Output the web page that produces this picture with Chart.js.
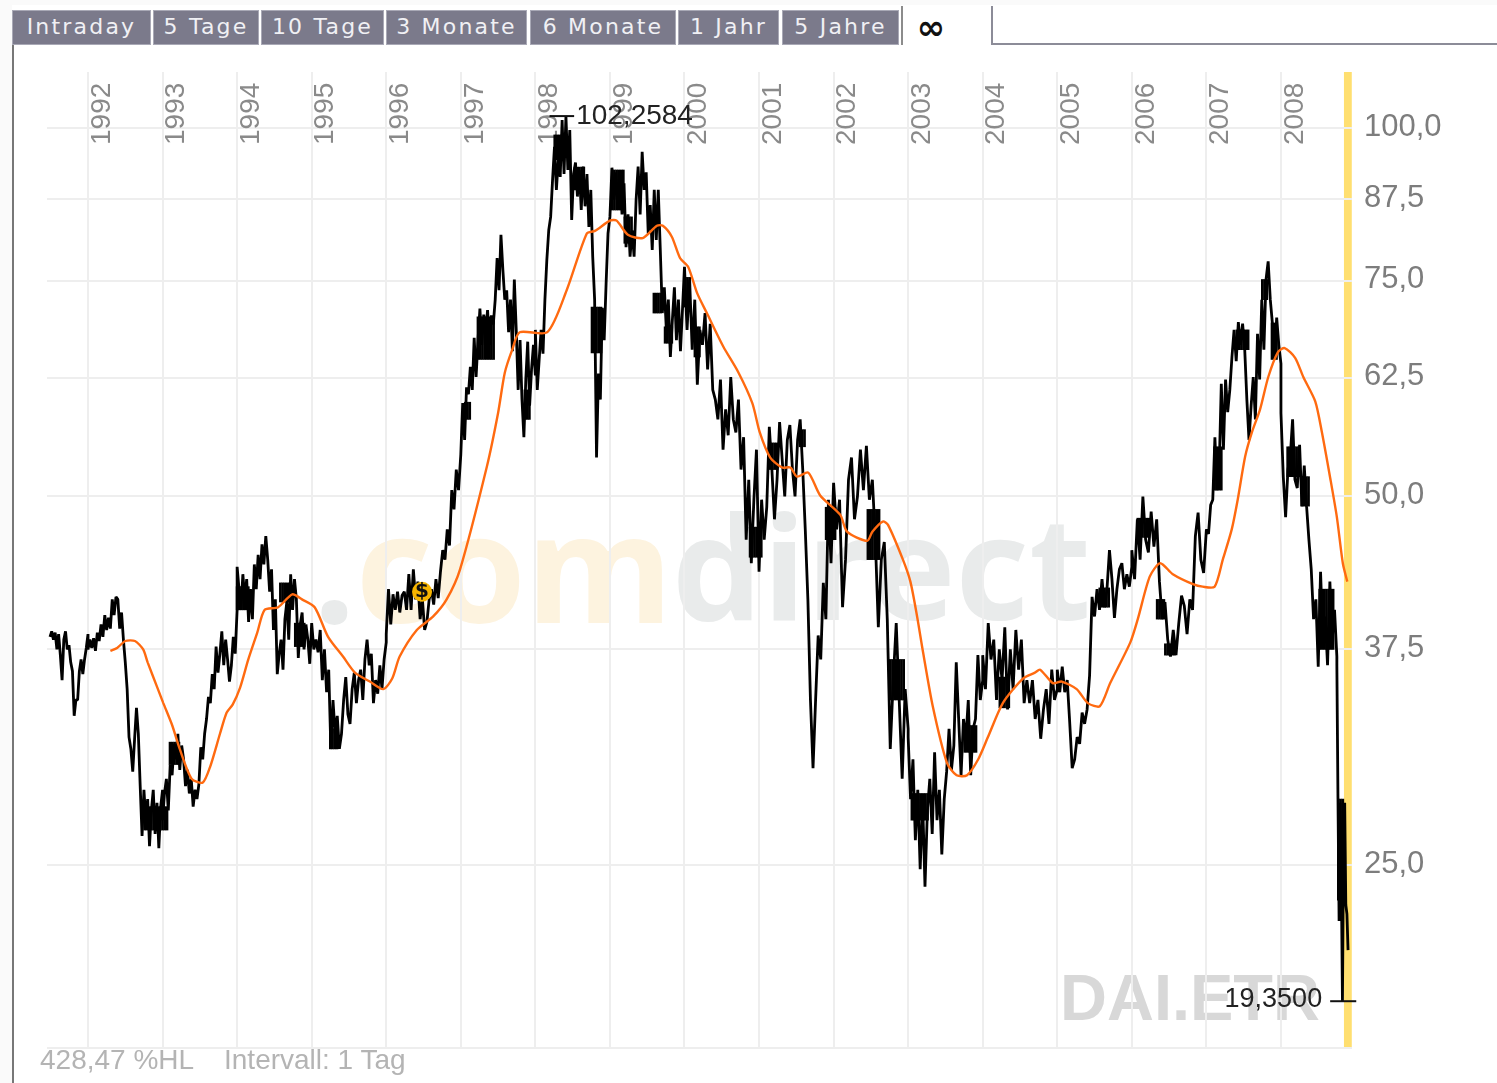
<!DOCTYPE html>
<html><head><meta charset="utf-8"><title>DAI.ETR</title>
<script src="https://cdn.jsdelivr.net/npm/chart.js@4"></script>
<style>
html,body{margin:0;padding:0;background:#fff;overflow:hidden}
#wrap{position:relative;width:1497px;height:1083px;overflow:hidden}
#wrap>*{position:absolute}
canvas{left:0;top:0;z-index:2}
.tab{top:10px;height:35px;background:#7b7a8b;color:#f0f0f4;font:22px/32px "DejaVu Sans";letter-spacing:2.2px;text-align:center;white-space:nowrap;box-sizing:border-box;border:1px solid #a9a9b6;overflow:hidden}
.wm{font-family:"Open Sans";font-weight:700;white-space:nowrap;z-index:1}
.foot{top:1044px;font:28px/32px "Liberation Sans";color:#b4b4b4;white-space:nowrap;z-index:3}
</style></head><body><div id="wrap">
<div style="left:0;top:0;width:1497px;height:5px;background:#fafafa"></div>
<div style="left:0;top:0;width:12px;height:1083px;background:#fafafa"></div>
<div style="left:12px;top:45px;width:2px;height:1038px;background:#777"></div>
<div class="tab" style="left:12px;width:139px">Intraday</div>
<div class="tab" style="left:153px;width:106px">5 Tage</div>
<div class="tab" style="left:261px;width:123px">10 Tage</div>
<div class="tab" style="left:386px;width:141px">3 Monate</div>
<div class="tab" style="left:530px;width:146px">6 Monate</div>
<div class="tab" style="left:678px;width:101px">1 Jahr</div>
<div class="tab" style="left:782px;width:117px">5 Jahre</div>
<div style="left:901px;top:6px;width:2px;height:39px;background:#8c8c8c"></div>
<div style="left:913px;top:8px;width:36px;height:38px;font:bold 34px/38px 'DejaVu Sans';color:#111;text-align:center">∞</div>
<div style="left:991px;top:6px;width:2px;height:39px;background:#8c8c98"></div>
<div style="left:991px;top:43px;width:506px;height:2px;background:#8c8c98"></div>
<div class="wm" style="left:313px;top:440px;font-size:150px;line-height:250px;color:#fdf3df"><span style="color:#e9ebeb">.</span>com</div>
<div class="wm" style="left:672px;top:440px;font-size:143px;line-height:250px;color:#e9ebeb">direct</div>
<div style="left:1060px;top:960px;font:bold 65px/76px 'Liberation Sans';color:#d8d8d8;white-space:nowrap;z-index:1">DAI.ETR</div>
<div class="foot" style="left:40px">428,47 %HL</div>
<div class="foot" style="left:224px">Intervall: 1 Tag</div>
<canvas id="c" width="1497" height="1083"></canvas>
</div>
<script>
const yearTicks=[1992,1993,1994,1995,1996,1997,1998,1999,2000,2001,2002,2003,2004,2005,2006,2007,2008];
const priceTicks=[100,87.5,75,62.5,50,37.5,25];
const axisMin=17.72, axisMax=111.1;

const price1991=[38.4,38.8,38.2,38.7,37.5,38.6,37.1,35.4,38.2,38.8,37.5,37.8,36.6,36.0,33.1,34.1,34.1,36.0,36.8,35.8,36.8,37.6,38.6];
const price1992=[37.5,38.2,37.6,38.3,37.4,38.7,38.1,39.3,38.4,40.0,38.9,39.8,39.0,41.2,40.0,41.4,41.2,39.0,40.2,38.2,36.6,34.8,31.8,31.1,29.8,31.7,33.6,32.0,29.0,26.4,28.8,27.2,28.3,25.9,27.7,28.8,26.5,28.1,25.8,27.9,28.8];
const price1993=[27.2,28.6,29.4,27.7,30.2,29.6,31.4,30.5,32.0,29.9,31.3,30.5,29.0,29.9,28.6,29.4,27.9,28.8,28.3,29.1,31.2,30.5,32.0,32.9,34.3,33.9,35.8,34.8,37.7,35.9,37.2,38.8,36.4,38.2,36.8,35.3,36.4,38.4,37.2,40.4];
const price1994=[43.8,42.0,40.4,43.2,41.2,42.8,39.5,42.0,39.7,44.0,42.0,44.8,42.8,45.7,44.0,46.4,44.4,41.8,43.6,38.9,41.2,35.8,37.2,38.2,36.1,39.7,41.0,38.2,43.2,40.4,42.8,41.2,36.9,39.3,40.2,37.5,39.3,38.2,36.5,39.4];
const price1995=[39.4,37.5,38.2,37.3,38.9,35.4,37.5,34.6,36.1,31.1,34.1,32.0,33.1,31.1,32.0,34.1,35.6,33.2,32.6,34.8,35.9,33.9,35.4,36.1,34.1,36.8,38.2,36.4,37.2,33.9,35.4,34.5,36.4,34.8,36.8,38.0];
const price1996=[38.6,42.0,39.3,41.6,40.4,41.8,40.2,41.5,41.8,40.4,43.2,40.4,43.6,41.2,42.6,39.7,41.2,38.9,39.5,41.2,42.0,40.8,42.8,41.3,43.4,45.2,44.4,47.0,45.6,50.6,48.8,52.6,50.6,54.1];
const price1997=[54.1,59.6,55.6,61.4,60.6,63.8,61.1,67.4,62.6,67.1,71.2,66.5,70.4,68.1,71.0,66.5,70.3,69.1,72.4,78.3,73.7,81.8,76.6,72.4,73.7,68.1,72.4,65.7,75.2,68.4,61.1,67.1,60.0,55.9,62.3,66.9,59.3,63.5,66.5,62.8];
const price1998=[68.4,61.1,64.7,68.4,65.4,72.4,78.0,82.5,84.6,90.7,96.5,89.0,94.2,91.2,101.5,91.7,102.2,92.4,99.6,84.1,91.7,93.7,87.9,92.4,85.7,93.0,86.3,91.7,83.0,89.0,78.5,72.4,53.8,63.0,60.0,71.3,67.1,74.6,82.0,84.6];
const price1999=[84.6,92.8,87.4,92.0,85.7,91.0,85.0,90.1,79.9,85.0,78.5,82.5,78.5,87.4,93.0,85.0,95.6,89.0,92.0,82.0,86.5,79.5,89.0,81.0,89.0,79.5,70.6,74.1,68.4,72.4,65.0,69.7,74.1,67.1,72.4,65.7,71.0,77.0];
const price2000=[77.0,68.4,75.2,65.9,72.4,61.7,68.4,66.5,70.6,63.5,69.2,61.1,60.0,57.8,62.3,54.6,58.9,56.1,62.6,57.8,56.4,60.0,52.6,55.9,46.1,51.6,44.1,49.7,54.6,43.4];
const price2001=[43.4,49.7,46.1,49.0,57.0,52.6,47.9,51.6,57.5,53.6,50.0,55.6,57.2,52.6,50.0,55.6,57.8,52.6,46.9,41.2,34.1,30.0,34.1,38.5,36.8,42.5,39.7,49.7,44.1,51.3];
const price2002=[51.3,47.0,49.7,40.6,44.4,51.6,53.8,47.9,50.0,54.6,50.6,55.0,49.7,51.6,46.1,39.1,44.4,45.9,39.7,31.1,35.4,39.4,34.1,29.4,34.8,32.3];
const price2003=[31.8,28.3,30.5,26.2,28.8,24.8,28.3,24.0,27.7,29.4,26.5,30.9,27.2,28.8,25.5,28.3,29.8,32.3,29.9,31.3,36.6,32.9,29.6,32.9,31.7,34.1,29.6,32.3,32.9,37.1,34.1,35.4];
const price2004=[37.1,34.8,39.4,36.8,38.2,34.1,37.5,35.4,39.1,33.5,37.5,34.8,38.9,36.1,38.2,33.9,35.4,33.9,35.4,32.9,34.1,31.7,33.5,34.8,32.6,36.1,34.1,34.8];
const price2005=[36.1,34.6,36.3,34.6,35.4,32.7,30.0,30.5,31.8,31.4,33.3,32.6,33.5,35.7,41.4,39.9,42.0,40.4,42.8,40.6,42.0,45.2,42.8,39.8,42.0,43.6,44.1,42.0,43.2,42.2,43.8];
const price2006=[45.2,42.8,47.9,44.4,50.0,46.1,45.0,48.6,45.5,47.9,42.6,39.7,41.0,38.2,37.0,38.9,37.1,39.4,41.5,40.7,38.6,41.2,40.4,46.4,48.5,44.4,43.3,47.0];
const price2007=[47.0,46.6,49.2,49.7,55.9,50.6,52.6,61.8,54.6,62.3,58.6,61.1,65.0,68.4,64.5,69.4,66.5,69.2,65.9,60.0,55.6,59.3,62.6,57.8,67.9,62.3,72.4,65.9,75.2,77.8,72.4,69.2,64.7,70.0,66.5,64.2];
const price2008=[58.5,51.9,48.1,52.6,53.9,57.8,51.6,50.8,55.1,49.1,53.0,49.1,46.1,43.6,39.7,41.2,36.3,43.4,38.2,39.9,36.4,42.6,38.2,40.4,37.0];
const price2008End=[36.4,28.3,22.5,28.1,24.3,19.35,26.2,28.1,23.2,22.8,21.3];
const priceSpans=[
 [1991.49,1992,price1991],[1992,1993,price1992],[1993,1994,price1993],[1994,1995,price1994],
 [1995,1996,price1995],[1996,1997,price1996],[1997,1998,price1997],[1998,1999,price1998],
 [1999,2000,price1999],[2000,2001,price2000],[2001,2002,price2001],[2002,2003,price2002],
 [2003,2004,price2003],[2004,2005,price2004],[2005,2006,price2005],[2006,2007,price2006],
 [2007,2008,price2007],[2008,2008.75,price2008],[2008.75,2008.90,price2008End]];

/* stretches where the daily swings merge into a solid band */
const bandStart=[1992.76,1993.10,1994.00,1994.58,1994.78,1995.25,1997.23,1997.06,1997.86,1998.76,1998.26,1998.53,1999.03,1999.20,1999.59,1999.74,2000.01,2000.14,2000.88,2001.15,2001.55,2001.90,2002.46,2002.76,2003.05,2003.76,2004.23,2005.57,2006.08,2006.34,2006.45,2007.11,2007.41,2007.75,2007.88,2008.09,2008.28,2008.52,2008.77];
const bandEnd=[1993.06,1993.23,1994.17,1994.71,1994.91,1995.34,1997.46,1997.12,1997.93,1998.89,1998.40,1998.67,1999.20,1999.30,1999.70,1999.83,2000.07,2000.21,2001.05,2001.25,2001.62,2002.02,2002.62,2002.96,2003.27,2003.92,2004.37,2005.71,2006.24,2006.45,2006.58,2007.22,2007.56,2007.83,2007.96,2008.25,2008.39,2008.70,2008.83];
const bandHigh=[27.9,31.5,42.2,42.5,39.4,32.3,70.1,59.7,61.1,71.4,98.7,92.9,92.4,84.6,73.3,68.8,75.5,68.8,47.2,55.3,56.7,49.0,48.8,36.8,28.6,32.5,35.6,42.1,48.0,41.2,37.9,54.9,68.4,75.2,69.3,54.9,51.9,42.0,28.3];
const bandLow=[26.7,30.2,40.4,41.0,37.7,31.1,64.7,57.8,57.8,65.5,94.2,89.0,85.7,80.5,70.6,66.7,71.4,65.0,44.6,52.6,54.9,46.1,44.4,34.1,27.2,30.9,33.6,40.6,46.3,39.7,37.1,50.6,65.9,72.4,64.7,51.9,49.1,37.5,23.4];
const bandStep=0.03;

const smaYears=[1992.30,1992.39,1992.50,1992.63,1992.74,1992.80,1992.93,1993.01,1993.13,1993.23,1993.39,1993.54,1993.64,1993.77,1993.86,1993.94,1994.04,1994.15,1994.27,1994.37,1994.55,1994.74,1994.87,1995.04,1995.22,1995.42,1995.58,1995.78,1995.96,1996.08,1996.18,1996.41,1996.63,1996.81,1996.99,1997.35,1997.50,1997.59,1997.69,1997.79,1998.16,1998.42,1998.69,1998.80,1999.00,1999.09,1999.24,1999.44,1999.63,1999.71,1999.83,1999.94,2000.05,2000.17,2000.30,2000.52,2000.72,2000.91,2001.01,2001.15,2001.31,2001.42,2001.51,2001.66,2001.82,2002.09,2002.18,2002.45,2002.52,2002.66,2002.73,2002.93,2003.03,2003.12,2003.20,2003.33,2003.52,2003.65,2003.79,2003.94,2004.07,2004.27,2004.54,2004.70,2004.77,2004.94,2005.06,2005.26,2005.41,2005.57,2005.71,2005.98,2006.08,2006.24,2006.38,2006.55,2006.82,2006.95,2007.11,2007.22,2007.34,2007.42,2007.52,2007.61,2007.72,2007.83,2007.96,2008.05,2008.19,2008.30,2008.46,2008.55,2008.66,2008.75,2008.83,2008.89];
const smaValues=[37.4,37.6,38.1,38.1,37.5,36.6,34.9,33.9,32.5,31.1,29.4,29.2,30.1,32.0,33.3,33.8,34.9,36.8,38.7,40.4,40.6,41.6,41.2,40.6,38.4,37.0,35.9,35.3,34.8,35.5,37.0,38.9,39.9,41.2,43.6,52.9,58.5,63.1,65.9,68.1,68.1,73.7,82.0,82.4,84.0,84.0,81.8,81.3,83.2,83.2,81.5,78.3,77.0,73.3,70.6,66.3,63.2,59.6,56.4,53.8,52.8,52.8,51.9,52.3,50.1,48.3,46.8,46.0,46.8,47.7,47.4,44.4,42.6,39.9,37.3,33.7,30.3,29.6,29.6,30.5,31.8,33.9,35.5,35.9,36.1,35.2,35.3,34.8,33.9,33.7,35.2,38.0,39.7,43.0,44.1,43.2,42.4,42.2,42.2,44.4,47.0,49.7,53.9,56.4,58.9,62.6,65.6,66.1,64.9,62.6,59.8,56.4,51.8,48.1,44.1,42.6];

const highValue=102.2584, highTickYears=[1998.19,1998.52];
const lowValue=19.35, lowTickYears=[2008.66,2009.01];
const dividendYear=1996.48, dividendValue=41.8;
const stripYears=[2008.845,2008.95];

const pricePoints=[];
priceSpans.forEach(([a,b,vals])=>vals.forEach((v,i)=>pricePoints.push({x:a+i*(b-a)/(vals.length-1),y:v})));
const bandPoints=[];
bandStart.forEach((a,i)=>{for(let x=a;x<=bandEnd[i];x+=bandStep)bandPoints.push({x,y:[bandLow[i],bandHigh[i]]});});
const smaPoints=smaYears.map((x,i)=>({x,y:smaValues[i]}));
const comma=v=>v.toFixed(1).replace('.',',');

const decor={id:'decor',
 beforeDraw(c){const g=c.ctx,s=c.scales.x,a=c.chartArea;
  const l=s.getPixelForValue(stripYears[0]),r=s.getPixelForValue(stripYears[1]);
  g.save();g.fillStyle='#ffdf70';g.fillRect(l,a.top,r-l,a.bottom-a.top);g.restore();},
 afterDatasetsDraw(c){const g=c.ctx,x=c.scales.x,y=c.scales.y;
  g.save();g.fillStyle='#222';g.font='28px "Liberation Sans"';g.textBaseline='middle';
  g.textAlign='left';g.fillText('102,2584',x.getPixelForValue(highTickYears[1])+2,y.getPixelForValue(highValue));
  g.font='27px "Liberation Sans"';
  g.textAlign='right';g.fillText('19,3500',x.getPixelForValue(lowTickYears[0])-8,y.getPixelForValue(lowValue)-2);
  g.fillStyle='#111';g.font='bold 20px "DejaVu Sans"';g.textAlign='center';
  g.fillText('$',x.getPixelForValue(dividendYear),y.getPixelForValue(dividendValue));
  g.restore();}
};

new Chart(document.getElementById('c'),{
 type:'scatter',
 data:{datasets:[
  {label:'GD',data:smaPoints,showLine:true,borderColor:'#ff6a10',borderWidth:2.4,tension:0.25,pointRadius:0,order:1},
  {label:'DAI.ETR',data:pricePoints,showLine:true,borderColor:'#000',borderWidth:2.8,pointRadius:0,order:3},
  {type:'bar',label:'Spanne',data:bandPoints,backgroundColor:'#000',borderWidth:0,barThickness:2,grouped:false,order:4},
  {label:'Hoch',data:highTickYears.map(x=>({x,y:highValue})),showLine:true,borderColor:'#111',borderWidth:2,pointRadius:0,order:2},
  {label:'Tief',data:lowTickYears.map(x=>({x,y:lowValue})),showLine:true,borderColor:'#111',borderWidth:2,pointRadius:0,order:2,clip:false},
  {label:'Dividende',data:[{x:dividendYear,y:dividendValue}],pointRadius:10,pointBackgroundColor:'#f7b500',pointBorderWidth:0,showLine:false,order:0}
 ]},
 plugins:[decor],
 options:{responsive:false,animation:false,events:[],
  layout:{padding:{left:47,top:72,bottom:35,right:0}},
  plugins:{legend:{display:false},title:{display:false},tooltip:{enabled:false}},
  elements:{line:{tension:0,borderJoinStyle:'bevel'}},
  scales:{
   x:{type:'linear',position:'top',offset:false,min:1991.45,max:2008.953,
    afterBuildTicks(s){s.ticks=yearTicks.map(v=>({value:v}));},
    afterFit(s){s.height=0;s.paddingLeft=0;s.paddingRight=0;},
    border:{display:false},
    grid:{color:'#eeeeee',lineWidth:2,drawTicks:false,offset:false},
    ticks:{mirror:true,autoSkip:false,minRotation:90,maxRotation:90,padding:73,labelOffset:14,color:'#8a8a8a',
     font:{family:'"Liberation Sans"',size:28},callback:v=>String(v)}},
   y:{type:'logarithmic',position:'right',min:axisMin,max:axisMax,
    afterBuildTicks(s){s.ticks=[axisMin,...priceTicks].map(v=>({value:v}));},
    afterFit(s){s.width=145;},
    border:{display:false},
    grid:{color:'#eeeeee',lineWidth:2,drawTicks:false},
    ticks:{autoSkip:false,padding:12,labelOffset:-1,color:'#7d7d7d',font:{family:'"Liberation Sans"',size:31},
     callback:v=>priceTicks.includes(v)?comma(v):''}}
  }}
});
</script></body></html>
